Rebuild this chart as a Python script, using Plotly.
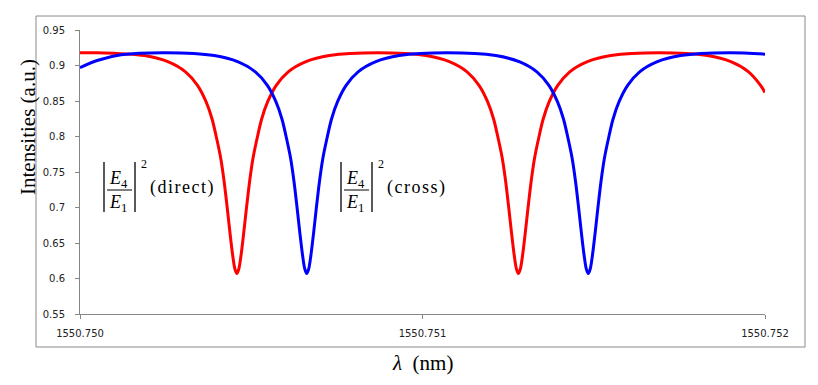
import plotly.graph_objects as go

# ---------------- data ----------------
# |E4/E1|^2 (direct) -- red curve
lam_direct = [
    1550.750000, 1550.750047, 1550.750188, 1550.750258, 1550.750308, 1550.750343,
    1550.750368, 1550.750386, 1550.750400, 1550.750411, 1550.750421, 1550.750430,
    1550.750438, 1550.750446, 1550.750452, 1550.750458, 1550.750464, 1550.750470,
    1550.750478, 1550.750486, 1550.750495, 1550.750505, 1550.750516, 1550.750530,
    1550.750548, 1550.750573, 1550.750608, 1550.750658, 1550.750728, 1550.750869,
    1550.751010, 1550.751080, 1550.751130, 1550.751165, 1550.751190, 1550.751208,
    1550.751222, 1550.751233, 1550.751243, 1550.751252, 1550.751260, 1550.751268,
    1550.751274, 1550.751280, 1550.751286, 1550.751292, 1550.751300, 1550.751308,
    1550.751317, 1550.751327, 1550.751338, 1550.751352, 1550.751370, 1550.751395,
    1550.751430, 1550.751480, 1550.751550, 1550.751691, 1550.751832, 1550.751902,
    1550.751952, 1550.751987, 1550.752000,
]
int_direct = [
    0.918, 0.918, 0.914, 0.905, 0.891, 0.872,
    0.849, 0.824, 0.795, 0.769, 0.736, 0.699,
    0.664, 0.632, 0.614, 0.607, 0.614, 0.632,
    0.664, 0.699, 0.736, 0.769, 0.795, 0.824,
    0.849, 0.872, 0.891, 0.905, 0.914, 0.918,
    0.914, 0.905, 0.891, 0.872, 0.849, 0.824,
    0.795, 0.769, 0.736, 0.699, 0.664, 0.632,
    0.614, 0.607, 0.614, 0.632, 0.664, 0.699,
    0.736, 0.769, 0.795, 0.824, 0.849, 0.872,
    0.891, 0.905, 0.914, 0.918, 0.914, 0.905,
    0.891, 0.872, 0.862,
]

# |E4/E1|^2 (cross) -- blue curve
lam_cross = [
    1550.750000, 1550.750050, 1550.750120, 1550.750251, 1550.750392, 1550.750462,
    1550.750512, 1550.750547, 1550.750572, 1550.750590, 1550.750604, 1550.750615,
    1550.750625, 1550.750634, 1550.750642, 1550.750650, 1550.750656, 1550.750662,
    1550.750668, 1550.750674, 1550.750682, 1550.750690, 1550.750699, 1550.750709,
    1550.750720, 1550.750734, 1550.750752, 1550.750777, 1550.750812, 1550.750862,
    1550.750932, 1550.751073, 1550.751214, 1550.751284, 1550.751334, 1550.751369,
    1550.751394, 1550.751412, 1550.751426, 1550.751437, 1550.751447, 1550.751456,
    1550.751464, 1550.751472, 1550.751478, 1550.751484, 1550.751490, 1550.751496,
    1550.751504, 1550.751512, 1550.751521, 1550.751531, 1550.751542, 1550.751556,
    1550.751574, 1550.751599, 1550.751634, 1550.751684, 1550.751754, 1550.751895,
    1550.752000,
]
int_cross = [
    0.897, 0.907, 0.915, 0.918, 0.914, 0.905,
    0.891, 0.872, 0.849, 0.824, 0.795, 0.769,
    0.736, 0.699, 0.664, 0.632, 0.614, 0.607,
    0.614, 0.632, 0.664, 0.699, 0.736, 0.769,
    0.795, 0.824, 0.849, 0.872, 0.891, 0.905,
    0.914, 0.918, 0.914, 0.905, 0.891, 0.872,
    0.849, 0.824, 0.795, 0.769, 0.736, 0.699,
    0.664, 0.632, 0.614, 0.607, 0.614, 0.632,
    0.664, 0.699, 0.736, 0.769, 0.795, 0.824,
    0.849, 0.872, 0.891, 0.905, 0.914, 0.918,
    0.916,
]

x_tickvals = [1550.750, 1550.751, 1550.752]
x_ticktext = ["1550.750", "1550.751", "1550.752"]
y_tickvals = [0.55, 0.60, 0.65, 0.70, 0.75, 0.80, 0.85, 0.90, 0.95]
y_ticktext = ["0.55", "0.6", "0.65", "0.7", "0.75", "0.8", "0.85", "0.9", "0.95"]

# ---------------- layout helpers ----------------
W, H = 818, 385
L, R, T, B = 80, 53, 30, 71
PW, PH = W - L - R, H - T - B


def px(x):
    return (x - L) / PW


def py(y):
    return (H - B - y) / PH


SERIF = "Liberation Serif, Times New Roman, serif"
SANS = "DejaVu Sans, Verdana, sans-serif"

fig = go.Figure()
fig.add_trace(go.Scatter(x=lam_direct, y=int_direct, mode="lines",
                         line=dict(color="#FF0000", width=3, shape="spline", smoothing=0.8),
                         showlegend=False, hoverinfo="skip"))
fig.add_trace(go.Scatter(x=lam_cross, y=int_cross, mode="lines",
                         line=dict(color="#0000FF", width=3, shape="spline", smoothing=0.8),
                         showlegend=False, hoverinfo="skip"))

axis_common = dict(showgrid=False, zeroline=False, showline=True, linecolor="#868686",
                   linewidth=1, ticks="outside", ticklen=4, tickcolor="#868686",
                   tickfont=dict(family=SANS, size=10, color="#222222"))

fig.update_xaxes(range=[1550.750, 1550.752], tickmode="array", tickvals=x_tickvals,
                 ticktext=x_ticktext, ticklabelstandoff=6, **axis_common)
fig.update_yaxes(range=[0.55, 0.95], tickmode="array", tickvals=y_tickvals,
                 ticktext=y_ticktext, ticklabelstandoff=8, **axis_common)

shapes = []
# outer chart border
shapes.append(dict(type="rect", xref="paper", yref="paper",
                   x0=px(36), x1=px(805), y0=py(347), y1=py(16),
                   line=dict(color="#8a8a8a", width=1), layer="below"))

annotations = []
# axis titles
annotations.append(dict(text="Intensities (a.u.)", xref="paper", yref="paper",
                        x=px(28), y=py(127), textangle=-90, showarrow=False,
                        xanchor="center", yanchor="middle",
                        font=dict(family=SERIF, size=21, color="#000000")))
annotations.append(dict(text="<i>λ</i>  (nm)", xref="paper", yref="paper",
                        x=px(422), y=py(363), showarrow=False,
                        xanchor="center", yanchor="middle",
                        font=dict(family=SERIF, size=21, color="#000000")))


def label(x0, word):
    # |E4/E1|^2 (word), x0 = left bar pixel position
    bar_top, bar_bot = 162, 212
    shapes.append(dict(type="line", xref="paper", yref="paper",
                       x0=px(x0), x1=px(x0), y0=py(bar_top), y1=py(bar_bot),
                       line=dict(color="black", width=1.3)))
    shapes.append(dict(type="line", xref="paper", yref="paper",
                       x0=px(x0 + 31), x1=px(x0 + 31), y0=py(bar_top), y1=py(bar_bot),
                       line=dict(color="black", width=1.3)))
    shapes.append(dict(type="line", xref="paper", yref="paper",
                       x0=px(x0 + 3), x1=px(x0 + 28), y0=py(190), y1=py(190),
                       line=dict(color="black", width=1)))
    annotations.append(dict(text="<i>E</i><sub>4</sub>", xref="paper", yref="paper",
                            x=px(x0 + 3), y=py(179), xanchor="left", yanchor="middle",
                            showarrow=False, font=dict(family=SERIF, size=18, color="black")))
    annotations.append(dict(text="<i>E</i><sub>1</sub>", xref="paper", yref="paper",
                            x=px(x0 + 3), y=py(203), xanchor="left", yanchor="middle",
                            showarrow=False, font=dict(family=SERIF, size=18, color="black")))
    annotations.append(dict(text="2", xref="paper", yref="paper",
                            x=px(x0 + 35), y=py(164), xanchor="left", yanchor="middle",
                            showarrow=False, font=dict(family=SERIF, size=12, color="black")))
    annotations.append(dict(text="\u200a".join(word), xref="paper", yref="paper",
                            x=px(x0 + 44), y=py(188), xanchor="left", yanchor="middle",
                            showarrow=False, font=dict(family=SERIF, size=18, color="black")))


label(104, "(direct)")
label(341, "(cross)")

fig.update_layout(width=W, height=H, margin=dict(l=L, r=R, t=T, b=B),
                  paper_bgcolor="white", plot_bgcolor="white",
                  shapes=shapes, annotations=annotations, showlegend=False)

fig.write_html("out.html", config={"displayModeBar": False},
               post_script="document.body.style.margin='0';")
